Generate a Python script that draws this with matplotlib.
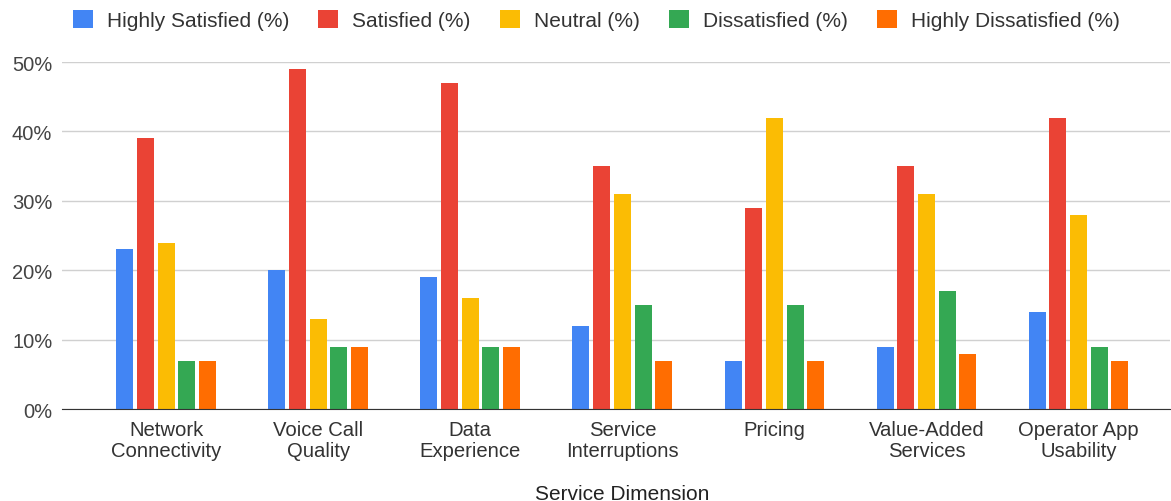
import matplotlib.pyplot as plt
import matplotlib.ticker as mtick
import numpy as np

plt.rcParams['font.family'] = ['Liberation Sans', 'DejaVu Sans']

dimensions = ["Network\nConnectivity", "Voice Call\nQuality", "Data\nExperience",
              "Service\nInterruptions", "Pricing", "Value-Added\nServices",
              "Operator App\nUsability"]
highly_satisfied = [23, 20, 19, 12, 7, 9, 14]
satisfied = [39, 49, 47, 35, 29, 35, 42]
neutral = [24, 13, 16, 31, 42, 31, 28]
dissatisfied = [7, 9, 9, 15, 15, 17, 9]
highly_dissatisfied = [7, 9, 9, 7, 7, 8, 7]

series = [
    ("Highly Satisfied (%)", highly_satisfied, "#4285F4"),
    ("Satisfied (%)", satisfied, "#EA4335"),
    ("Neutral (%)", neutral, "#FBBC04"),
    ("Dissatisfied (%)", dissatisfied, "#34A853"),
    ("Highly Dissatisfied (%)", highly_dissatisfied, "#FF6D01"),
]

fig = plt.figure(figsize=(11.71, 5.02), dpi=100)
ax = fig.add_axes([0.053, 0.183, 0.946, 0.6915])

x = np.arange(len(dimensions))
pitch = 0.136
width = 0.112
for i, (name, vals, col) in enumerate(series):
    ax.bar(x + (i - 2) * pitch, np.array(vals) / 100, width, color=col,
           label=name, zorder=3)

ax.set_xlim(-0.684, 6.6)
ax.set_ylim(0, 0.5)
ax.set_yticks(np.arange(0, 0.51, 0.1))
ax.yaxis.set_major_formatter(mtick.PercentFormatter(1.0, decimals=0))
ax.set_xticks(x)
ax.set_xticklabels(dimensions, fontsize=14.6, color="#333333", linespacing=1.15)
ax.tick_params(axis="y", labelsize=14.5, colors="#444444", length=0, pad=7)
ax.tick_params(axis="x", length=0, pad=8)
ax.grid(axis="y", color="#d0d0d0", linewidth=1, zorder=0)
for s in ["top", "right", "left"]:
    ax.spines[s].set_visible(False)
ax.spines["bottom"].set_color("#333333")
ax.spines["bottom"].set_zorder(4)

ax.set_xlabel("Service Dimension", fontsize=15, color="#222222", va="center")
ax.xaxis.set_label_coords(0.506, -0.242)

fig.legend(loc="center", bbox_to_anchor=(0.509, 0.958), ncol=5, frameon=False,
           fontsize=15, handlelength=0.96, handleheight=0.96, handletextpad=0.67,
           columnspacing=1.4, labelcolor="#333333")

fig.savefig("out.png", dpi=100)
